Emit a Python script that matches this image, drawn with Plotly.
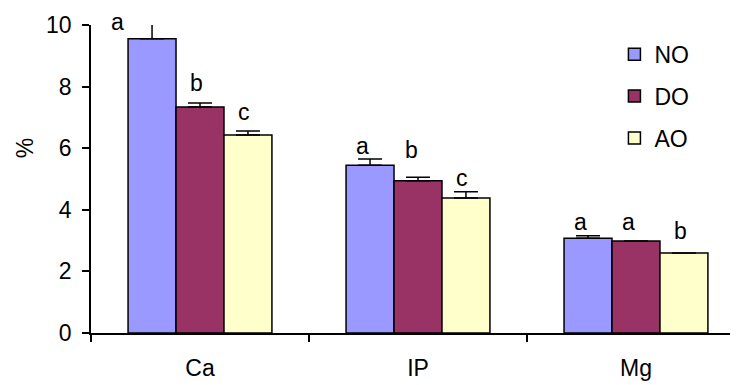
import plotly.graph_objects as go

categories = ["Ca", "IP", "Mg"]
series_names = ["NO", "DO", "AO"]
values = {
    "NO": [9.55, 5.45, 3.08],
    "DO": [7.34, 4.94, 2.99],
    "AO": [6.43, 4.38, 2.60],
}
errors = {
    "NO": [0.52, 0.20, 0.08],
    "DO": [0.13, 0.12, 0.0],
    "AO": [0.13, 0.21, 0.0],
}
letters = {
    "NO": ["a", "a", "a"],
    "DO": ["b", "b", "a"],
    "AO": ["c", "c", "b"],
}
colors = {"NO": "#9999FF", "DO": "#993366", "AO": "#FFFFCC"}
y_ticks = [0, 2, 4, 6, 8, 10]

# pixel nudges for the significance letters (dx, dy above error-bar top)
letter_dx = {"NO": [-35, -8, -8], "DO": [-4, -6, -7], "AO": [-4, -4, -3]}
letter_dy = {"NO": [1, 13, 14], "DO": [20, 27, 19], "AO": [19, 14, 22]}

FONT = "Liberation Sans, Arial, sans-serif"
FS = 23
bargap = 0.34
PLOT_H = 308
Y_MAX = 10
px_per_unit = PLOT_H / Y_MAX

fig = go.Figure()
for name in series_names:
    fig.add_trace(go.Bar(
        x=categories, y=values[name], name=name,
        marker=dict(color=colors[name], line=dict(color="black", width=1.5)),
        error_y=dict(type="data", symmetric=False, array=errors[name],
                     arrayminus=[0] * len(categories), visible=True,
                     color="black", thickness=1.5, width=12),
        cliponaxis=False, legendgroup=name,
    ))

bw = (1 - bargap) / len(series_names)
annotations = []
for j, name in enumerate(series_names):
    for i, cat in enumerate(categories):
        annotations.append(dict(
            x=i + (j - 1) * bw, y=values[name][i],
            xref="x", yref="y", text=letters[name][i], showarrow=False,
            yanchor="middle", xanchor="center",
            xshift=letter_dx[name][i],
            yshift=errors[name][i] * px_per_unit + letter_dy[name][i],
            font=dict(family=FONT, size=FS, color="black"),
        ))
annotations.append(dict(
    x=-0.102, y=0.6, xref="paper", yref="paper", text="%", showarrow=False,
    textangle=-90, xanchor="center", yanchor="middle",
    font=dict(family=FONT, size=FS, color="black"),
))

fig.update_layout(
    width=730, height=377,
    margin=dict(l=83, r=0, t=17, b=52),
    paper_bgcolor="white", plot_bgcolor="white",
    barmode="group", bargap=bargap, bargroupgap=0,
    font=dict(family=FONT, size=FS, color="black"),
    showlegend=True,
    legend=dict(x=0.809, y=0.975, xanchor="left", yanchor="top",
                bgcolor="rgba(0,0,0,0)", font=dict(family=FONT, size=FS),
                tracegroupgap=9, itemwidth=30),
    annotations=annotations,
)
fig.update_xaxes(
    type="category", range=[-0.5, 2.468], showline=True, linecolor="black",
    linewidth=1.5, ticks="outside", tickson="boundaries", ticklen=7,
    tickwidth=1.5, tickcolor="black", showgrid=False, zeroline=False,
    ticklabelstandoff=14,
)
fig.update_yaxes(
    range=[0, Y_MAX], tickvals=y_ticks, showline=True, linecolor="black",
    linewidth=1.5, ticks="outside", ticklen=7, tickwidth=1.5,
    tickcolor="black", showgrid=False, zeroline=False,
    ticklabelstandoff=6,
)

fig.write_html("out.html")
